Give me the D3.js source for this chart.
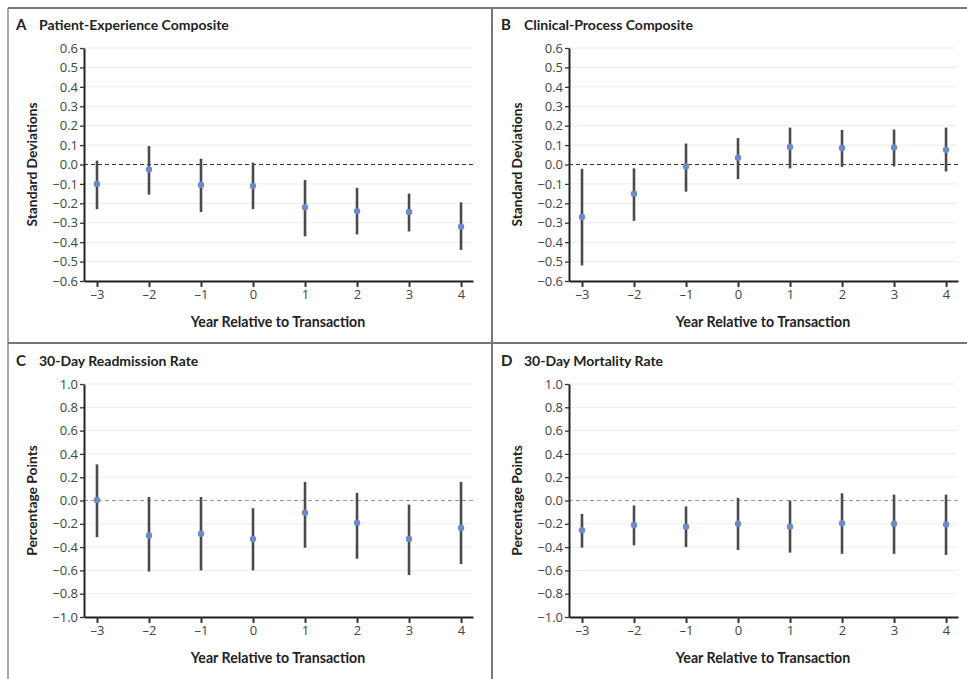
<!DOCTYPE html>
<html>
<head>
<meta charset="utf-8">
<script src="https://cdn.jsdelivr.net/npm/d3@7"></script>
<style>
  body { margin: 0; background: #fff; }
  text { font-family: Lato, "Open Sans", sans-serif; }
</style>
</head>
<body>
<div id="chart"></div>
<script>
// x categories, shared by all four panels
const years = [-3, -2, -1, 0, 1, 2, 3, 4];

const letters = ["A", "B", "C", "D"];
const titles = ["Patient-Experience Composite", "Clinical-Process Composite",
                "30-Day Readmission Rate", "30-Day Mortality Rate"];
const yTitles = ["Standard Deviations", "Standard Deviations", "Percentage Points", "Percentage Points"];
const xTitle = "Year Relative to Transaction";

// tick labels
const sdTicks = [-0.6, -0.5, -0.4, -0.3, -0.2, -0.1, 0.0, 0.1, 0.2, 0.3, 0.4, 0.5, 0.6];
const ppTicks = [-1.0, -0.8, -0.6, -0.4, -0.2, 0.0, 0.2, 0.4, 0.6, 0.8, 1.0];

// A - patient experience (SD)
const patientEst  = [-0.10, -0.025, -0.105, -0.11, -0.22, -0.24, -0.245, -0.32];
const patientLow  = [-0.23, -0.155, -0.245, -0.23, -0.37, -0.36, -0.345, -0.44];
const patientHigh = [ 0.02,  0.095,  0.03,   0.01, -0.08, -0.12, -0.15,  -0.195];

// B - clinical process (SD)
const clinicalEst  = [-0.27, -0.15, -0.01,  0.035, 0.09,  0.085, 0.088, 0.076];
const clinicalLow  = [-0.52, -0.29, -0.14, -0.075, -0.02, -0.012, -0.01, -0.036];
const clinicalHigh = [-0.022, -0.02, 0.108, 0.136, 0.19,  0.178, 0.18,  0.19];

// C - readmission (percentage points)
const readmitEst  = [ 0.005, -0.30, -0.285, -0.33, -0.105, -0.19, -0.33, -0.235];
const readmitLow  = [-0.315, -0.61, -0.60,  -0.60, -0.405, -0.50, -0.64, -0.545];
const readmitHigh = [ 0.31,   0.03,  0.03,  -0.066, 0.16,   0.066, -0.035, 0.16];

// D - mortality (percentage points)
const mortalEst  = [-0.255, -0.21, -0.225, -0.20, -0.225, -0.195, -0.20, -0.205];
const mortalLow  = [-0.405, -0.385, -0.40, -0.425, -0.447, -0.458, -0.458, -0.467];
const mortalHigh = [-0.115, -0.043, -0.052, 0.023, 0.0, 0.062, 0.05, 0.05];

const width = 967, height = 679;

const svg = d3.select("#chart").append("svg")
  .attr("width", width)
  .attr("height", height)
  .style("background", "#fff");

// frame lines
const frame = [[8, 8, 8, height, "#aaa"], [8, 8, width, 8, "#777"],
               [492, 8, 492, height, "#777"], [8, 343, width, 343, "#777"]];
svg.selectAll("line.frame").data(frame).enter().append("line")
  .attr("class", "frame")
  .attr("x1", d => d[0]).attr("y1", d => d[1])
  .attr("x2", d => d[2]).attr("y2", d => d[3])
  .attr("stroke", d => d[4]).attr("stroke-width", 2);

const panels = [
  {est: patientEst,  low: patientLow,  high: patientHigh,  ticks: sdTicks, dx: 0,   dy: 0,   zero: "#333"},
  {est: clinicalEst, low: clinicalLow, high: clinicalHigh, ticks: sdTicks, dx: 485, dy: 0,   zero: "#333"},
  {est: readmitEst,  low: readmitLow,  high: readmitHigh,  ticks: ppTicks, dx: 0,   dy: 336, zero: "#999"},
  {est: mortalEst,   low: mortalLow,   high: mortalHigh,   ticks: ppTicks, dx: 485, dy: 336, zero: "#999"}
];

const plotLeft = 84, plotRight = 473, plotTop = 48, plotBottom = 281;
const fmt = d3.format(".1f");

panels.forEach((p, k) => {
  const g = svg.append("g").attr("transform", `translate(${p.dx},${p.dy})`);

  const x = d3.scaleLinear().domain([-3.25, 4.23]).range([plotLeft, plotRight]);
  const y = d3.scaleLinear().domain(d3.extent(p.ticks)).range([plotBottom, plotTop]);

  // gridlines
  g.selectAll("line.grid").data(p.ticks.filter(t => t !== 0)).enter().append("line")
    .attr("class", "grid")
    .attr("x1", plotLeft).attr("x2", plotRight - 1)
    .attr("y1", d => y(d)).attr("y2", d => y(d))
    .attr("stroke", "#ececec").attr("stroke-width", 1);

  // zero reference
  g.append("line")
    .attr("x1", plotLeft).attr("x2", plotRight + 2)
    .attr("y1", y(0)).attr("y2", y(0))
    .attr("stroke", p.zero).attr("stroke-width", 1.2)
    .attr("stroke-dasharray", "4,3");

  // y axis
  const ya = g.append("g").attr("transform", `translate(${plotLeft},0)`)
    .call(d3.axisLeft(y).tickValues(p.ticks).tickSize(4).tickSizeOuter(0).tickPadding(2).tickFormat(fmt));
  ya.select(".domain").attr("stroke", "#222").attr("stroke-width", 2);
  ya.selectAll(".tick line").attr("stroke", "#333").attr("stroke-width", 1.3);
  ya.selectAll(".tick text").attr("fill", "#444").style("font-size", "13px")
    .style("font-family", "'Open Sans', sans-serif");

  // x axis
  const xa = g.append("g").attr("transform", `translate(0,${plotBottom})`)
    .call(d3.axisBottom(x).tickValues(years).tickSize(6).tickSizeOuter(0).tickPadding(3)
      .tickFormat(d => d < 0 ? "\u2013" + Math.abs(d) : d));
  xa.select(".domain").attr("stroke", "#222").attr("stroke-width", 2);
  xa.selectAll(".tick line").attr("stroke", "#333").attr("stroke-width", 2);
  xa.selectAll(".tick text").attr("fill", "#444").style("font-size", "13px")
    .style("font-family", "'Open Sans', sans-serif");

  // error bars
  g.selectAll("line.ci").data(years).enter().append("line")
    .attr("class", "ci")
    .attr("x1", d => x(d)).attr("x2", d => x(d))
    .attr("y1", (d, i) => y(p.low[i])).attr("y2", (d, i) => y(p.high[i]))
    .attr("stroke", "#4a4a4a").attr("stroke-width", 2.6);

  // point estimates
  g.selectAll("circle.pt").data(years).enter().append("circle")
    .attr("class", "pt")
    .attr("cx", d => x(d)).attr("cy", (d, i) => y(p.est[i]))
    .attr("r", 3.2).attr("fill", "#6b8cc8");

  // panel heading
  g.append("text").attr("x", 16).attr("y", 30)
    .style("font-size", "15px").style("font-weight", "bold").attr("fill", "#222")
    .text(letters[k]);
  g.append("text").attr("x", 39).attr("y", 30)
    .style("font-size", "14px").style("font-weight", "bold").attr("fill", "#222")
    .text(titles[k]);

  // axis titles
  g.append("text").attr("transform", `translate(37,${(plotTop + plotBottom) / 2}) rotate(-90)`)
    .attr("text-anchor", "middle")
    .style("font-size", "13.8px").style("font-weight", "bold").attr("fill", "#222")
    .text(yTitles[k]);
  g.append("text").attr("x", 278).attr("y", 327)
    .attr("text-anchor", "middle")
    .style("font-size", "14.2px").style("font-weight", "bold").attr("fill", "#222")
    .text(xTitle);
});
</script>
</body>
</html>
